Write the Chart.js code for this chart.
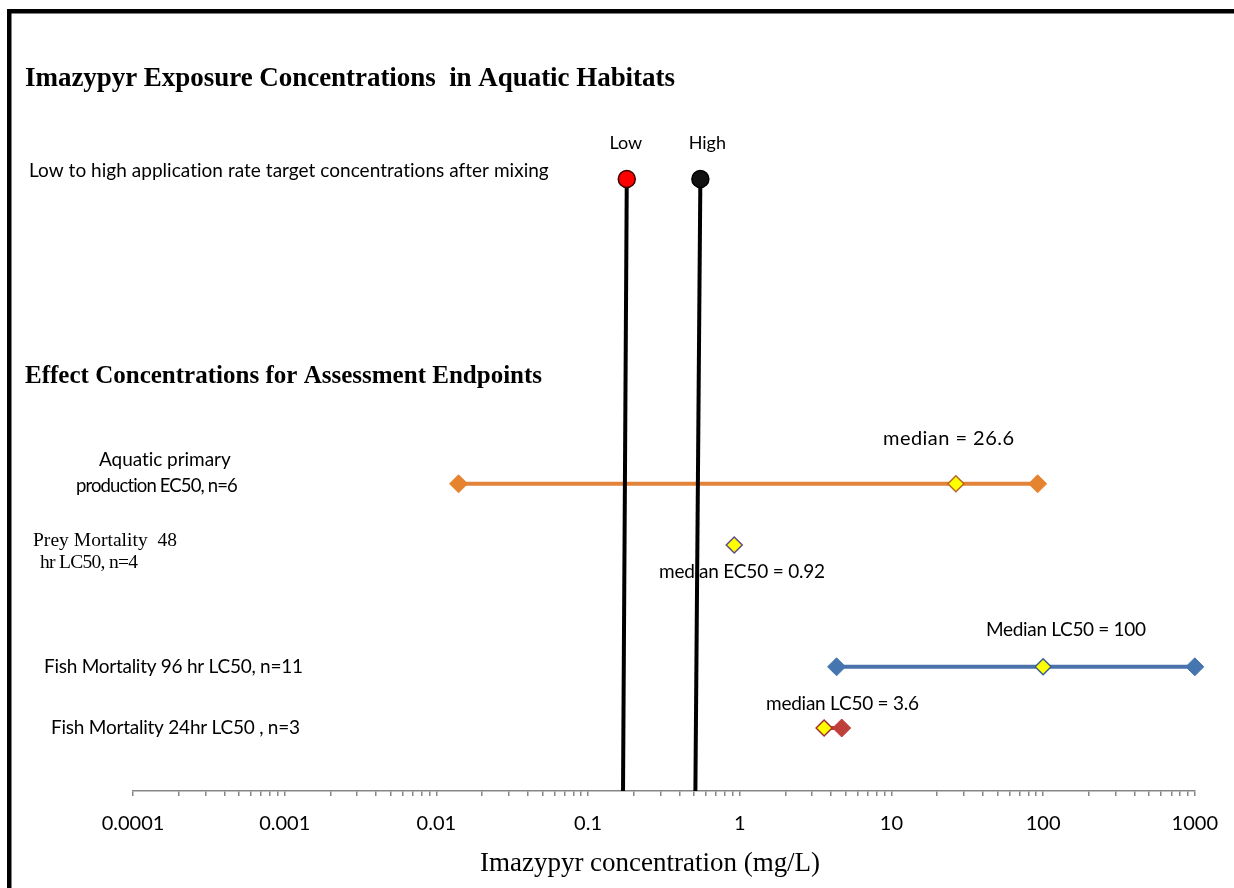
<!DOCTYPE html>
<html>
<head>
<meta charset="utf-8">
<title>Imazypyr Exposure Concentrations</title>
<script src="https://cdn.jsdelivr.net/npm/chart.js@4.4.0/dist/chart.umd.min.js"></script>
<style>
  html, body { margin: 0; padding: 0; background: #fff; }
  #wrap { position: relative; width: 1234px; height: 888px; }
</style>
</head>
<body>
<div id="wrap"><canvas id="chart"></canvas></div>
<script>
// concentrations in mg/L; y is a row level on a hidden 0..11 axis
const tickLabels = ['0.0001', '0.001', '0.01', '0.1', '1', '10', '100', '1000'];
const rowLevels = [10.2, 5.12, 4.1, 2.07, 1.05]; // exposure, aquatic, prey, fish 96h, fish 24h
const exposureNames = ['Low', 'High'];
const exposureTop = [0.18, 0.55];
const exposureBottom = [0.17, 0.51];
const aquaticEC50 = [0.014, 26.6, 92];
const preyLC50 = [0.92];
const fish96LC50 = [4.35, 100, 1000];
const fish24LC50 = [3.6, 4.7];

const SANS = 'Lato';
const SERIF = '"Liberation Serif"';

function rowPoints(values, level) {
  return values.map(v => ({ x: v, y: level }));
}

function diamondSeries(values, level, medianIdx, color, line, medianBorder, r) {
  return {
    data: rowPoints(values, level),
    showLine: values.length > 1,
    borderColor: line,
    borderWidth: 4,
    pointStyle: 'rectRot',
    pointRadius: values.map((v, i) => i === medianIdx ? r - 1 : r),
    pointBackgroundColor: values.map((v, i) => i === medianIdx ? '#ffff00' : color),
    pointBorderColor: values.map((v, i) => i === medianIdx ? medianBorder : color),
    pointBorderWidth: values.map((v, i) => i === medianIdx ? 1.5 : 1),
    clip: false,
    order: 5
  };
}

function exposureLine(i, fill, edge) {
  return {
    data: [{ x: exposureTop[i], y: rowLevels[0] }, { x: exposureBottom[i], y: 0 }],
    showLine: true,
    borderColor: '#000',
    borderWidth: 4,
    pointStyle: 'circle',
    pointRadius: [8.5, 0],
    pointBackgroundColor: fill,
    pointBorderColor: edge,
    pointBorderWidth: 1.5,
    clip: false,
    order: 1
  };
}

// x = left edge, w = width the text should fill, y = baseline
const texts = [
  { t: 'Imazypyr Exposure Concentrations  in Aquatic Habitats', x: 25, y: 86, w: 650, f: 'bold 27px ' + SERIF },
  { t: 'Low to high application rate target concentrations after mixing', x: 29, y: 177, w: 520, f: '19px ' + SANS },
  { t: 'Effect Concentrations for Assessment Endpoints', x: 25, y: 383, w: 517, f: 'bold 25px ' + SERIF },
  { t: 'Aquatic primary', x: 99, y: 466, w: 132, f: '19px ' + SANS },
  { t: 'production EC50, n=6', x: 76, y: 492, w: 162, f: '18.5px ' + SANS },
  { t: 'Prey Mortality  48', x: 33, y: 546, w: 144, f: '19.5px ' + SERIF },
  { t: 'hr LC50, n=4', x: 40, y: 568, w: 98, f: '19.5px ' + SERIF },
  { t: 'Fish Mortality 96 hr LC50, n=11', x: 44, y: 673, w: 259, f: '19px ' + SANS },
  { t: 'Fish Mortality 24hr LC50 , n=3', x: 51, y: 734, w: 249, f: '19px ' + SANS },
  { t: 'median = 26.6', x: 883, y: 445, w: 131, f: '20px ' + SANS },
  { t: 'median EC50 = 0.92', x: 659, y: 578, w: 166, f: '19px ' + SANS },
  { t: 'Median LC50 = 100', x: 986, y: 636, w: 160, f: '19px ' + SANS },
  { t: 'median LC50 = 3.6', x: 766, y: 710, w: 153, f: '19px ' + SANS },
  { t: 'Imazypyr concentration (mg/L)', x: 480, y: 871, w: 340, f: '27px ' + SERIF }
];

function put(ctx, item) {
  ctx.font = item.f;
  ctx.fillStyle = '#000';
  ctx.textAlign = 'left';
  ctx.textBaseline = 'alphabetic';
  if ('letterSpacing' in ctx) ctx.letterSpacing = '0px';
  const natural = ctx.measureText(item.t).width;
  if (item.w && 'letterSpacing' in ctx) {
    const gap = (item.w - natural) / Math.max(item.t.length - 1, 1);
    ctx.letterSpacing = gap.toFixed(2) + 'px';
    ctx.fillText(item.t, item.x, item.y);
    ctx.letterSpacing = '0px';
  } else {
    ctx.fillText(item.t, item.x, item.y, item.w);
  }
}

const decor = {
  id: 'decor',
  beforeDatasetsDraw(chart) {
    const ctx = chart.ctx;
    ctx.save();
    texts.forEach(it => put(ctx, it));
    // Low / High captions above the top markers
    exposureNames.forEach((name, i) => {
      const pt = chart.getDatasetMeta(i).data[0];
      ctx.font = '18px ' + SANS;
      ctx.textAlign = 'center';
      ctx.fillStyle = '#000';
      ctx.fillText(name, pt.x + (i === 0 ? -1 : 7), pt.y - 30);
    });
    ctx.restore();
  },
  afterDraw(chart) {
    const ctx = chart.ctx;
    ctx.save();
    ctx.fillStyle = '#000';
    ctx.fillRect(7, 9, chart.width, 4.5);
    ctx.fillRect(7, 9, 4.5, chart.height);
    ctx.restore();
  }
};

new Chart(document.getElementById('chart'), {
  type: 'scatter',
  data: {
    datasets: [
      exposureLine(0, '#ff0000', '#3a0000'),
      exposureLine(1, '#111111', '#000000'),
      diamondSeries(aquaticEC50, rowLevels[1], 1, '#e5832f', '#e3833a', '#b8651f', 9),
      diamondSeries(preyLC50, rowLevels[2], 0, '#ffff00', '#5f4b8b', '#5f4b8b', 9),
      diamondSeries(fish96LC50, rowLevels[3], 1, '#4576b0', '#4a73aa', '#3b5f8e', 9),
      diamondSeries(fish24LC50, rowLevels[4], 0, '#bf403b', '#bf403b', '#a0302c', 9)
    ]
  },
  options: {
    responsive: true,
    maintainAspectRatio: false,
    animation: false,
    layout: { padding: { left: 133, right: 36, top: 131, bottom: 0 } },
    plugins: { legend: { display: false }, tooltip: { enabled: false } },
    scales: {
      x: {
        type: 'logarithmic',
        min: 0.0001,
        max: 1000,
        afterFit(s) { s.height = 97; },
        afterBuildTicks(s) {
          const ticks = [];
          for (let e = -4; e < 3; e++) {
            for (let m = 1; m < 10; m++) {
              ticks.push({ value: Number((m * Math.pow(10, e)).toPrecision(6)), major: m === 1 });
            }
          }
          ticks.push({ value: 1000, major: true });
          s.ticks = ticks;
        },
        border: { display: true, color: '#868686', width: 1.5 },
        grid: { drawOnChartArea: false, drawTicks: true, tickLength: 5, color: '#868686', lineWidth: 1.5 },
        ticks: {
          autoSkip: false,
          maxRotation: 0,
          padding: 16,
          color: '#000',
          font: { family: SANS, size: 20 },
          callback: (v, i) => (i % 9 === 0 ? tickLabels[i / 9] : '')
        }
      },
      y: { type: 'linear', min: 0, max: 11, display: false }
    }
  },
  plugins: [decor]
});
</script>
</body>
</html>
